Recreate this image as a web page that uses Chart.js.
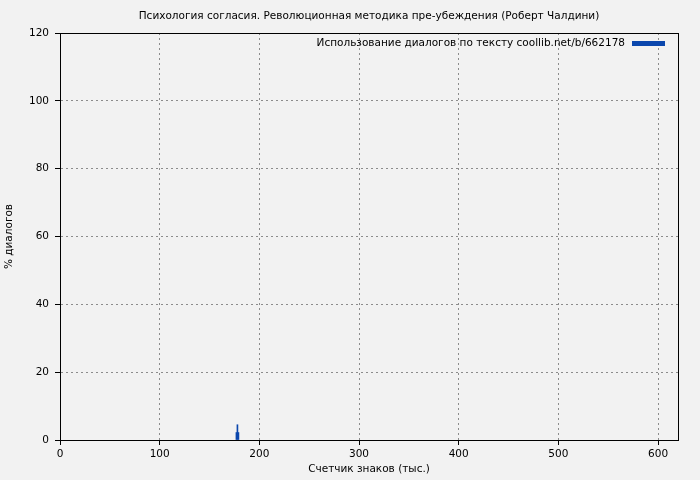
<!DOCTYPE html>
<html>
<head>
<meta charset="utf-8">
<script src="https://cdn.jsdelivr.net/npm/chart.js@4"></script>
<style>
  html, body { margin: 0; padding: 0; background: #f2f2f2; }
  #wrap { width: 700px; height: 480px; }
</style>
</head>
<body>
<div id="wrap"><canvas id="chart"></canvas></div>
<script>
// данные
const positions = [177, 178, 179];        // тыс. знаков
const dialogPercent = [2.2, 4.5, 2.2];   // % диалогов
const xTicks = [0, 100, 200, 300, 400, 500, 600];
const yTicks = [0, 20, 40, 60, 80, 100, 120];

const chartTitle = 'Психология согласия. Революционная методика пре-убеждения (Роберт Чалдини)';
const seriesLabel = 'Использование диалогов по тексту coollib.net/b/662178';

const FONT = "'DejaVu Sans', sans-serif";
const FSIZE = 10.5;
const BLUE = '#0b47ad';

// заголовок над областью графика, рамка и легенда в правом верхнем углу
const framePlugin = {
    id: 'frame',
    afterDraw(chart) {
        const a = chart.chartArea;
        const ctx = chart.ctx;
        ctx.save();
        ctx.strokeStyle = '#000';
        ctx.lineWidth = 1;
        ctx.strokeRect(a.left + 0.5, a.top + 0.5, a.right - a.left, a.bottom - a.top);

        ctx.font = FSIZE + 'px ' + FONT;
        ctx.fillStyle = '#000';
        ctx.textBaseline = 'middle';
        ctx.textAlign = 'center';
        ctx.fillText(chartTitle, (a.left + a.right) / 2, 16);

        const ds = chart.data.datasets[0];
        ctx.textAlign = 'right';
        ctx.fillText(ds.label, a.right - 53, a.top + 10);
        ctx.fillStyle = ds.backgroundColor;
        ctx.fillRect(a.right - 46, a.top + 8, 33, 5);
        ctx.restore();
    }
};

const ctx = document.getElementById('chart').getContext('2d');
new Chart(ctx, {
    type: 'bar',
    data: {
        datasets: [{
            label: seriesLabel,
            data: positions.map((x, i) => ({ x: x, y: dialogPercent[i] })),
            backgroundColor: BLUE,
            borderWidth: 0,
            barPercentage: 1,
            categoryPercentage: 1
        }]
    },
    options: {
        responsive: true,
        maintainAspectRatio: false,
        animation: false,
        layout: { padding: { left: 0, right: 22, top: 33, bottom: 0 } },
        plugins: {
            title: { display: false },
            legend: { display: false },
            tooltip: { enabled: false }
        },
        scales: {
            x: {
                type: 'linear',
                min: 0,
                max: 620,
                offset: false,
                afterBuildTicks(scale) { scale.ticks = xTicks.map(v => ({ value: v })); },
                afterFit(scale) { scale.height = 40; },
                ticks: { color: '#000', font: { family: FONT, size: FSIZE }, padding: 3, maxRotation: 0 },
                grid: { color: '#8c8c8c', tickColor: '#000', tickLength: 5, offset: false },
                border: { color: '#000', dash: [2, 3] },
                title: {
                    display: true,
                    text: 'Счетчик знаков (тыс.)',
                    color: '#000',
                    font: { family: FONT, size: FSIZE },
                    padding: { top: 0, bottom: 4 }
                }
            },
            y: {
                min: 0,
                max: 120,
                afterBuildTicks(scale) { scale.ticks = yTicks.map(v => ({ value: v })); },
                afterFit(scale) { scale.width = 60; },
                ticks: { color: '#000', font: { family: FONT, size: FSIZE }, padding: 6 },
                grid: { color: '#8c8c8c', tickColor: '#000', tickLength: 5 },
                border: { color: '#000', dash: [2, 3] },
                title: {
                    display: true,
                    text: '% диалогов',
                    color: '#000',
                    font: { family: FONT, size: FSIZE },
                    padding: { top: 3, bottom: 0 }
                }
            }
        }
    },
    plugins: [framePlugin]
});
</script>
</body>
</html>
